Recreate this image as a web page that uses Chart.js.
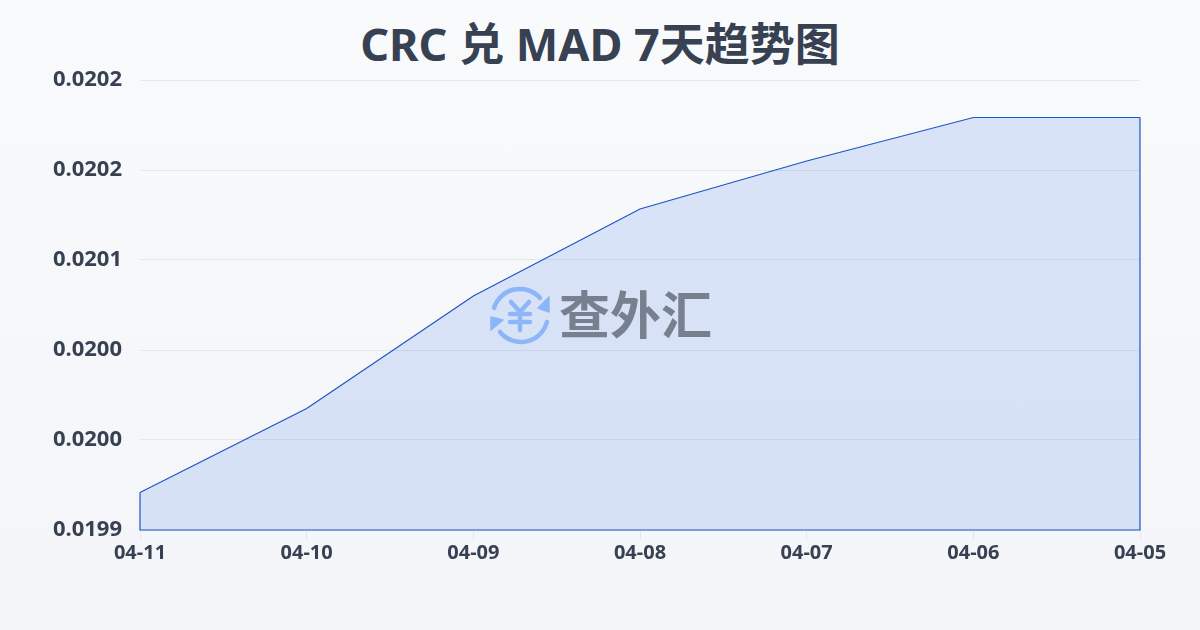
<!DOCTYPE html>
<html lang="zh-CN">
<head>
  <meta charset="UTF-8" />
  <title>CRC 兑 MAD 7天趋势图</title>
  <script src="https://cdn.jsdelivr.net/npm/chart.js"></script>
  <style>
    html, body { margin: 0; padding: 0; }
    body {
      width: 1200px; height: 630px; overflow: hidden; position: relative;
      background: linear-gradient(180deg, #f8fafc 0%, #f3f5f8 100%);
      font-family: "Noto Sans", "Noto Sans CJK SC", sans-serif;
    }
    #chart { position: absolute; left: 0; top: 0; }
    h1 {
      position: absolute; left: 0; top: 14px; width: 1200px; margin: 0; text-align: center;
      font: 700 45px/60px "Noto Sans", "Noto Sans CJK SC", sans-serif; color: #374151;
    }
    .watermark { position: absolute; left: 488px; top: 284px; width: 230px; height: 62px; }
    .watermark svg { position: absolute; left: 0; top: 1px; }
    .watermark span {
      position: absolute; left: 71px; top: -4px; white-space: nowrap;
      font: 700 51px/64px "Noto Sans CJK SC", sans-serif; color: #76808f;
    }
  </style>
</head>
<body>
  <h1 id="title"></h1>
  <canvas id="chart" width="1200" height="630"></canvas>

  <!-- 水印 -->
  <div class="watermark">
    <svg width="64" height="62" viewBox="0 0 64 62" fill="none">
      <path d="M6 23 A27 27 0 0 1 52 13" stroke="#8cb6f7" stroke-width="4.5" stroke-linecap="round" />
      <path d="M61 12 L61 27 L50 23 Z" fill="#8cb6f7" stroke="#8cb6f7" stroke-width="1.5" stroke-linejoin="round" />
      <path d="M59 37 A27 27 0 0 1 12 47" stroke="#8cb6f7" stroke-width="4.5" stroke-linecap="round" />
      <path d="M3 32 L3 45 L15 35 Z" fill="#8cb6f7" stroke="#8cb6f7" stroke-width="1.5" stroke-linejoin="round" />
      <path d="M23 17 L32 27 L41 17 M22 29 H42 M22 37 H42 M32 27 V45" stroke="#8cb6f7" stroke-width="4.5" stroke-linecap="round" stroke-linejoin="round" />
    </svg>
    <span>查外汇</span>
  </div>

  <script>
    const titleText = 'CRC 兑 MAD 7天趋势图';
    const dates = ['04-11', '04-10', '04-09', '04-08', '04-07', '04-06', '04-05'];
    const rates = [0.019945, 0.020001, 0.020076, 0.020134, 0.020166, 0.020195, 0.020195];
    const yMin = 0.01992;
    const yMax = 0.02022;
    const yStep = 0.00006;

    const textColor = '#374151';
    const lineColor = '#1e55c4';

    document.getElementById('title').textContent = titleText;

    // 面积图左、下、右三边也要描边
    const closeOutline = {
      id: 'closeOutline',
      afterDatasetsDraw(chart) {
        const pts = chart.getDatasetMeta(0).data;
        const bottom = chart.scales.y.bottom;
        const first = pts[0];
        const last = pts[pts.length - 1];
        const c = chart.ctx;
        c.save();
        c.strokeStyle = lineColor;
        c.lineWidth = 1.2;
        c.beginPath();
        c.moveTo(first.x, first.y);
        c.lineTo(first.x, bottom);
        c.lineTo(last.x, bottom);
        c.lineTo(last.x, last.y);
        c.stroke();
        c.restore();
      },
    };

    new Chart(document.getElementById('chart'), {
      type: 'line',
      data: {
        labels: dates,
        datasets: [{
          data: rates,
          borderColor: lineColor,
          borderWidth: 1.2,
          backgroundColor: 'rgba(37,99,235,0.14)',
          fill: 'start',
          tension: 0,
          pointRadius: 0,
        }],
      },
      options: {
        responsive: false,
        animation: false,
        layout: { padding: { left: 0, right: 60, top: 80, bottom: 0 } },
        plugins: {
          legend: { display: false },
          tooltip: { enabled: false },
        },
        scales: {
          x: {
            offset: false,
            border: { display: false },
            grid: { display: true, drawOnChartArea: false, drawTicks: true, tickLength: 10, color: '#e5e7eb' },
            ticks: {
              color: textColor,
              font: { family: '"Noto Sans", sans-serif', size: 20, weight: '700' },
              padding: 1,
              maxRotation: 0,
              autoSkip: false,
            },
            afterFit(scale) { scale.height = 100; },
          },
          y: {
            min: yMin,
            max: yMax,
            border: { display: false },
            grid: { color: '#e5e7eb', drawTicks: false },
            ticks: {
              stepSize: yStep,
              color: textColor,
              crossAlign: 'center',
              padding: 18,
              font: { family: '"Noto Sans", sans-serif', size: 22, weight: '700' },
              callback: (v) => v.toFixed(4),
            },
            afterFit(scale) { scale.width = 140; },
          },
        },
      },
      plugins: [closeOutline],
    });
  </script>
</body>
</html>
